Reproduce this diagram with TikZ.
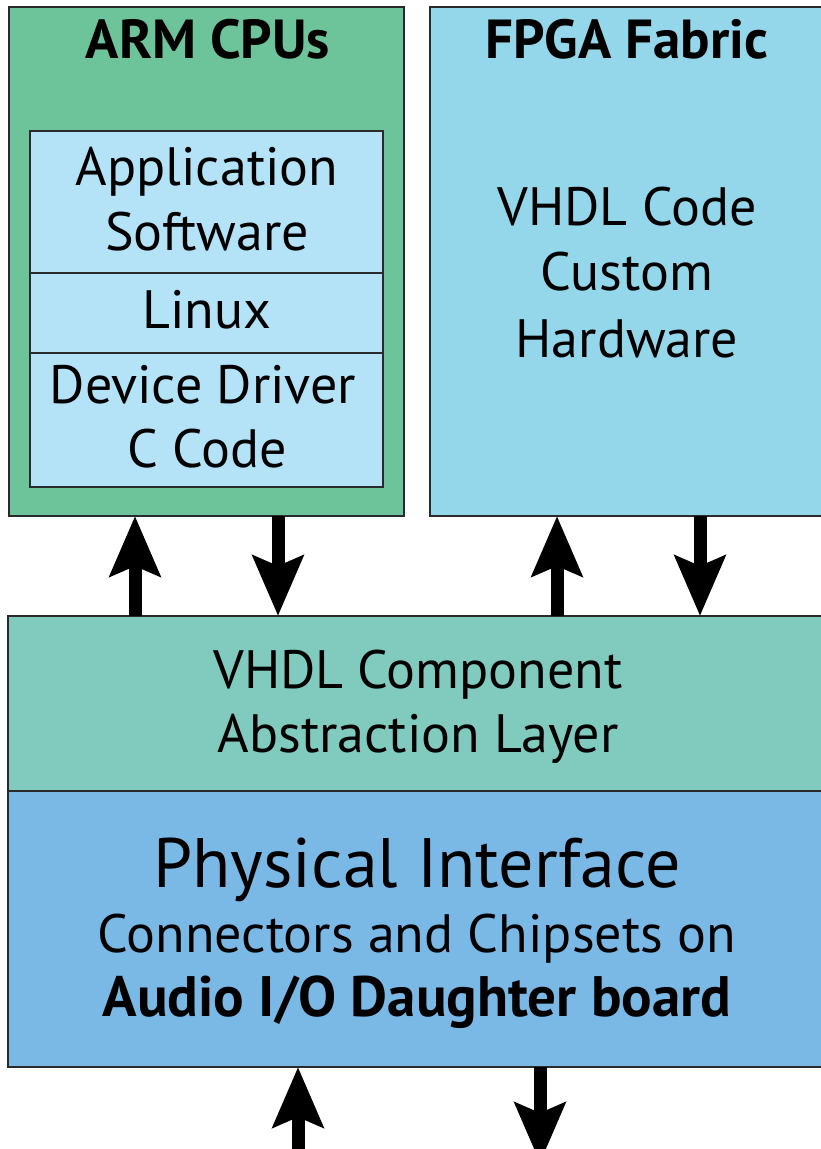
\documentclass[tikz,border=0pt]{standalone}
\usepackage{fontspec}
\setmainfont{PT Sans}
\usetikzlibrary{arrows.meta}
\definecolor{armgreen}{HTML}{6DC39A}
\definecolor{swblue}{HTML}{B4E3F8}
\definecolor{fpgablue}{HTML}{94D7EA}
\definecolor{midteal}{HTML}{80CBBD}
\definecolor{physblue}{HTML}{7AB8E6}
\definecolor{boxline}{HTML}{2A2A2A}
\begin{document}
\begin{tikzpicture}[x=1pt,y=-1pt,
  box/.style={draw=boxline, line width=2pt, inner sep=0pt, outer sep=0pt},
  txt/.style={anchor=base, inner sep=0pt, font=\fontsize{54}{60}\selectfont},
  ttl/.style={anchor=base, inner sep=0pt, font=\fontsize{55}{60}\selectfont\bfseries},
  bttl/.style={anchor=base, inner sep=0pt, font=\fontsize{57}{60}\selectfont\bfseries},
  bigtxt/.style={anchor=base, inner sep=0pt, font=\fontsize{70}{80}\selectfont},
  bigarrow/.style={line width=13pt, -{Stealth[length=60pt,width=50pt,inset=10pt]}}]
\useasboundingbox (0,0) rectangle (820,1149);
% boxes
\node[box, fill=armgreen, minimum width=395pt, minimum height=509pt] (arm) at (206.5,261.5) {};
\node[box, fill=fpgablue, minimum width=395pt, minimum height=509pt] (fpga) at (627.5,261.5) {};
\node[box, fill=swblue, minimum width=353pt, minimum height=142pt] (app) at (206.5,202) {};
\node[box, fill=swblue, minimum width=353pt, minimum height=80pt] (linux) at (206.5,313) {};
\node[box, fill=swblue, minimum width=353pt, minimum height=134pt] (drv) at (206.5,420) {};
\node[box, fill=midteal, minimum width=817pt, minimum height=175pt] (mid) at (416.5,703.5) {};
\node[box, fill=physblue, minimum width=817pt, minimum height=276pt] (phys) at (416.5,929) {};
% texts
\node[ttl] (armt) at (208,58) {ARM CPUs};
\node[ttl] (fpgat) at (627,58) {FPGA Fabric};
\node[txt] (appa) at (207,185) {Application};
\node[txt] (appb) at (207,250) {Software};
\node[txt] (linuxt) at (207,328) {Linux};
\node[txt] (drva) at (203,403) {Device Driver};
\node[txt] (drvb) at (207,467) {C Code};
\node[txt] (fa) at (627,225) {VHDL Code};
\node[txt] (fb) at (627,290) {Custom};
\node[txt] (fc) at (627,357) {Hardware};
\node[txt] (ma) at (418,688) {VHDL Component};
\node[txt] (mb) at (418,752) {Abstraction Layer};
\node[bigtxt] (pa) at (417,887) {Physical Interface};
\node[txt] (pb) at (417,952) {Connectors and Chipsets on};
\node[bttl] (pc) at (417,1016) {Audio I/O Daughter board};
% arrow columns
\coordinate (c1) at (135,0);
\coordinate (c2) at (278,0);
\coordinate (c3) at (557,0);
\coordinate (c4) at (700,0);
\coordinate (bu) at (298,1160);
\coordinate (bd) at (540,1163);
\draw[bigarrow] (mid.north -| c1) -- (arm.south -| c1);
\draw[bigarrow] (arm.south -| c2) -- (mid.north -| c2);
\draw[bigarrow] (mid.north -| c3) -- (fpga.south -| c3);
\draw[bigarrow] (fpga.south -| c4) -- (mid.north -| c4);
\draw[bigarrow] (bu) -- (phys.south -| bu);
\draw[bigarrow] (phys.south -| bd) -- (bd);
\end{tikzpicture}
\end{document}
